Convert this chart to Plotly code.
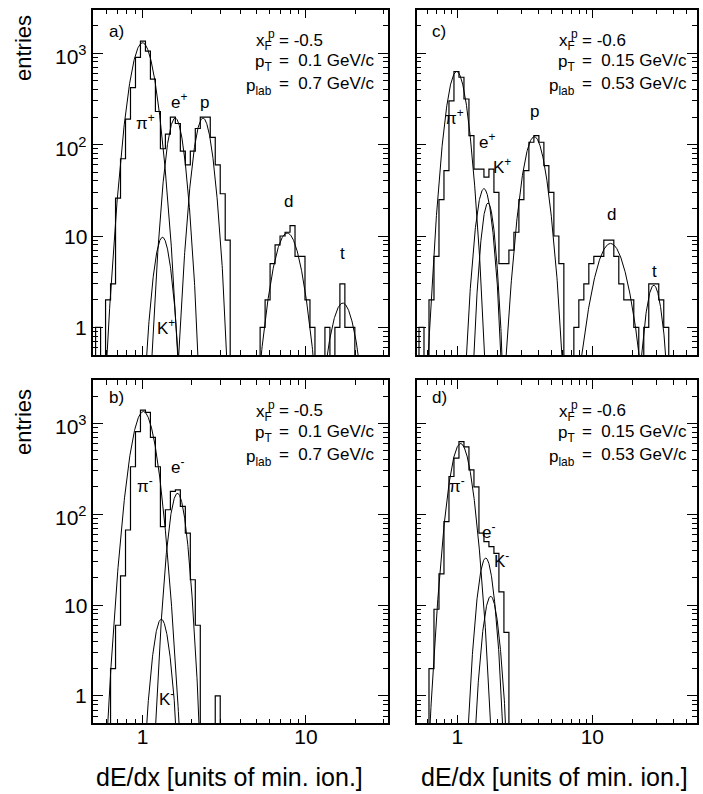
import numpy as np
import plotly.graph_objects as go

W, H = 703, 794

# ---------------- data ----------------
# histogram binning in log10(dE/dx)
BIN_LO_AB, BIN_W_AB = -0.3175, 0.0305
BIN_LO_CD, BIN_W_CD = -0.321, 0.037

counts_a = [0, 1, 0, 2, 3, 26, 70, 190, 420, 900,
            1350, 1050, 520, 230, 90, 130, 200, 170, 85, 60,
            85, 150, 200, 200, 120, 60, 29, 9, 0, 0,
            0, 0, 0, 0, 1, 2, 5, 8, 10, 11,
            13, 6, 6, 2, 1, 0, 0, 1, 0, 1,
            3, 1, 1, 0, 0, 0, 0, 0, 0, 0]
counts_b = [0, 0, 0, 0, 2, 6, 21, 67, 333, 810,
            1400, 1320, 700, 333, 73, 112, 178, 185, 122, 62,
            19, 6, 0, 0, 0, 1, 0, 0, 0, 0,
            0, 0, 0, 0, 0, 0, 0, 0, 0, 0,
            0, 0, 0, 0, 0, 0, 0, 0, 0, 0,
            0, 0, 0, 0, 0, 0, 0, 0, 0, 0]
counts_c = [0, 1, 0, 2, 6, 25, 52, 300, 630, 545,
            315, 125, 54, 54, 44, 54, 30, 5, 5, 7,
            11, 25, 52, 106, 125, 106, 59, 30, 10, 5,
            0, 0, 1, 2, 3, 5, 6, 6, 9, 9,
            6, 3, 2, 2, 1, 0, 1, 3, 3, 2,
            1, 0, 0, 0, 0, 0, 0]
counts_d = [0, 0, 0, 2, 9, 22, 83, 260, 415, 630,
            550, 307, 200, 62, 50, 44, 37, 14, 5, 0,
            0, 0, 0, 0, 0, 0, 0, 0, 0, 0,
            0, 0, 0, 0, 0, 0, 0, 0, 0, 0,
            0, 0, 0, 0, 0, 0, 0, 0, 0, 0,
            0, 0, 0, 0, 0, 0, 0]

# gaussian fits in log10(dE/dx): (amplitude, mean, sigma)
fits_a = {"pi": (1300, 0.000, 0.055), "K": (9.7, 0.122, 0.040), "e": (195, 0.200, 0.041),
          "p": (195, 0.370, 0.043), "d": (10.8, 0.885, 0.064), "t": (1.85, 1.225, 0.059)}
fits_b = {"pi": (1350, 0.005, 0.055), "K": (7.0, 0.115, 0.039), "e": (170, 0.214, 0.039)}
fits_c = {"pi": (630, -0.005, 0.0556), "e": (33, 0.197, 0.045), "K": (23, 0.227, 0.038),
          "p": (122, 0.570, 0.063), "d": (8.3, 1.135, 0.090), "t": (2.9, 1.455, 0.048)}
fits_d = {"pi": (600, 0.024, 0.060), "e": (33, 0.210, 0.0445), "K": (12.5, 0.247, 0.044)}

x_range_ab = [np.log10(0.5), 1.5]
x_range_cd = [np.log10(0.5), 1.773]
y_range = [np.log10(0.5), np.log10(3000)]

y_tick_vals = [1, 10, 100, 1000]
y_tick_text = ["1", "10", "10<sup>2</sup>", "10<sup>3</sup>"]

kin_left = ("-0.5", "0.1", "0.7")
kin_right = ("-0.6", "0.15", "0.53")

# panel frames in pixels (left, right, top, bottom)
frames = {
    "a": (93.3, 387.7, 9.5, 355.0),
    "c": (416.7, 696.7, 9.5, 355.0),
    "b": (93.3, 387.7, 380.0, 723.3),
    "d": (416.7, 696.7, 380.0, 723.3),
}

FONT = "Liberation Sans, Arial, Helvetica, sans-serif"

fig = go.Figure()

panels = [
    ("a", counts_a, BIN_LO_AB, BIN_W_AB, fits_a, x_range_ab, 1),
    ("c", counts_c, BIN_LO_CD, BIN_W_CD, fits_c, x_range_cd, 2),
    ("b", counts_b, BIN_LO_AB, BIN_W_AB, fits_b, x_range_ab, 3),
    ("d", counts_d, BIN_LO_CD, BIN_W_CD, fits_d, x_range_cd, 4),
]

FLOOR = 1e-3
for name, counts, lo, bw, fits, xr, k in panels:
    xa = "x" if k == 1 else f"x{k}"
    ya = "y" if k == 1 else f"y{k}"
    n = len(counts)
    edges = 10 ** (lo + bw * np.arange(n + 1))
    yv = [c if c > 0 else FLOOR for c in counts]
    yv = yv + [yv[-1]]
    xs = np.concatenate([[edges[0]], edges])
    ys = [FLOOR] + yv
    fig.add_trace(go.Scatter(x=xs, y=ys, mode="lines", line=dict(color="black", width=1.2, shape="hv"),
                             xaxis=xa, yaxis=ya, showlegend=False, hoverinfo="skip"))
    for sp, (A, mu, s) in fits.items():
        lx = np.linspace(mu - 4.5 * s, mu + 4.5 * s, 300)
        fy = A * np.exp(-0.5 * ((lx - mu) / s) ** 2)
        fig.add_trace(go.Scatter(x=10 ** lx, y=fy, mode="lines", line=dict(color="black", width=1.0),
                                 xaxis=xa, yaxis=ya, showlegend=False, hoverinfo="skip"))

major_x = [1, 10]
minor_x_ab = [0.5, 0.6, 0.7, 0.8, 0.9, 2, 3, 4, 5, 6, 7, 8, 9, 20, 30]
minor_x_cd = [0.5, 0.6, 0.7, 0.8, 0.9, 2, 3, 4, 5, 6, 7, 8, 9, 20, 30, 40, 50]
minor_y = [0.5, 0.6, 0.7, 0.8, 0.9] + [m * d for d in (1, 10, 100) for m in range(2, 10)] + [2000, 3000]

layout = dict(width=W, height=H, margin=dict(l=0, r=0, t=0, b=0),
              paper_bgcolor="white", plot_bgcolor="white", showlegend=False,
              font=dict(family=FONT, color="black"))

for name, counts, lo, bw, fits, xr, k in panels:
    l, r, t, b = frames[name]
    xkey = "xaxis" if k == 1 else f"xaxis{k}"
    ykey = "yaxis" if k == 1 else f"yaxis{k}"
    yid = "y" if k == 1 else f"y{k}"
    xid = "x" if k == 1 else f"x{k}"
    bottom = name in ("b", "d")
    left = name in ("a", "b")
    layout[xkey] = dict(type="log", range=xr, domain=[l / W, r / W], anchor=yid,
                        showline=True, linecolor="black", linewidth=1.5, mirror="allticks",
                        ticks="inside", ticklen=9, tickwidth=1, tickcolor="black",
                        tickmode="array", tickvals=major_x, ticktext=["1", "10"],
                        showticklabels=bottom, ticklabelstandoff=-6,
                        tickfont=dict(size=21, family=FONT),
                        minor=dict(ticks="inside", ticklen=5, tickwidth=1, tickcolor="black",
                                   tickmode="array",
                                   tickvals=minor_x_ab if left else minor_x_cd),
                        showgrid=False, zeroline=False)
    layout[ykey] = dict(type="log", range=y_range, domain=[1 - b / H, 1 - t / H], anchor=xid,
                        showline=True, linecolor="black", linewidth=1.5, mirror="allticks",
                        ticks="inside", ticklen=10, tickwidth=1, tickcolor="black",
                        tickmode="array", tickvals=y_tick_vals,
                        showticklabels=False,
                        minor=dict(ticks="inside", ticklen=5, tickwidth=1, tickcolor="black",
                                   tickmode="array", tickvals=minor_y),
                        showgrid=False, zeroline=False)

fig.update_layout(**layout)

ann = []


def txt(x, y, s, size=17, xanchor="center", yanchor="middle", angle=0):
    ann.append(dict(x=x / W, y=1 - y / H, xref="paper", yref="paper", text=s, showarrow=False,
                    xanchor=xanchor, yanchor=yanchor, textangle=angle,
                    font=dict(size=size, family=FONT, color="black")))


# y tick labels on the left panels, placed on the y axes' own scale
for yref in ("y", "y3"):
    for v, s in zip(y_tick_vals, y_tick_text):
        ann.append(dict(x=89 / W, xref="paper", y=np.log10(v), yref=yref, text=s, showarrow=False,
                        xanchor="right", yanchor="middle", yshift=-2 if "sup" in s else 0,
                        font=dict(size=21, family=FONT, color="black")))

# y titles
txt(23, 48, "entries", size=22, angle=-90)
txt(23, 422, "entries", size=22, angle=-90)
# x titles
txt(230, 777, "dE/dx [units of min. ion.]", size=25)
txt(554, 777, "dE/dx [units of min. ion.]", size=25)

# panel letters
txt(107, 31, "a)", size=17, xanchor="left")
txt(430, 31, "c)", size=17, xanchor="left")
txt(107, 397, "b)", size=17, xanchor="left")
txt(430, 397, "d)", size=17, xanchor="left")

# kinematic info blocks
for (eqx, top, vals) in [(277, 0, kin_left), (580, 0, kin_right), (277, 370.7, kin_left), (580, 370.7, kin_right)]:
    xf, pt, pl = vals
    txt(eqx - 3, top + 42, "x<sub>F</sub>", size=17, xanchor="right")
    txt(eqx - 11, top + 34, "p", size=12, xanchor="left")
    txt(eqx, top + 40, "= " + xf, size=17, xanchor="left")
    txt(eqx - 3, top + 63, "p<sub>T</sub>", size=17, xanchor="right")
    txt(eqx, top + 61, "=  " + pt + " GeV/c", size=17, xanchor="left")
    txt(eqx - 3, top + 87, "p<sub>lab</sub>", size=17, xanchor="right")
    txt(eqx, top + 84, "=  " + pl + " GeV/c", size=17, xanchor="left")

# particle labels panel a
txt(145, 122, "π<sup>+</sup>")
txt(179, 101, "e<sup>+</sup>")
txt(204, 102, "p")
txt(288, 202, "d")
txt(342, 253, "t")
txt(166, 327, "K<sup>+</sup>")
# panel c
txt(454, 117, "π<sup>+</sup>")
txt(487, 141, "e<sup>+</sup>")
txt(502, 166, "K<sup>+</sup>")
txt(534, 112, "p")
txt(611, 214, "d")
txt(654, 271, "t")
# panel b
txt(145, 485, "π<sup>-</sup>")
txt(177, 466, "e<sup>-</sup>")
txt(166, 698, "K<sup>-</sup>")
# panel d
txt(457, 485, "π<sup>-</sup>")
txt(489, 531, "e<sup>-</sup>")
txt(501, 560, "K<sup>-</sup>")

fig.update_layout(annotations=ann)
fig.write_html("out.html")
